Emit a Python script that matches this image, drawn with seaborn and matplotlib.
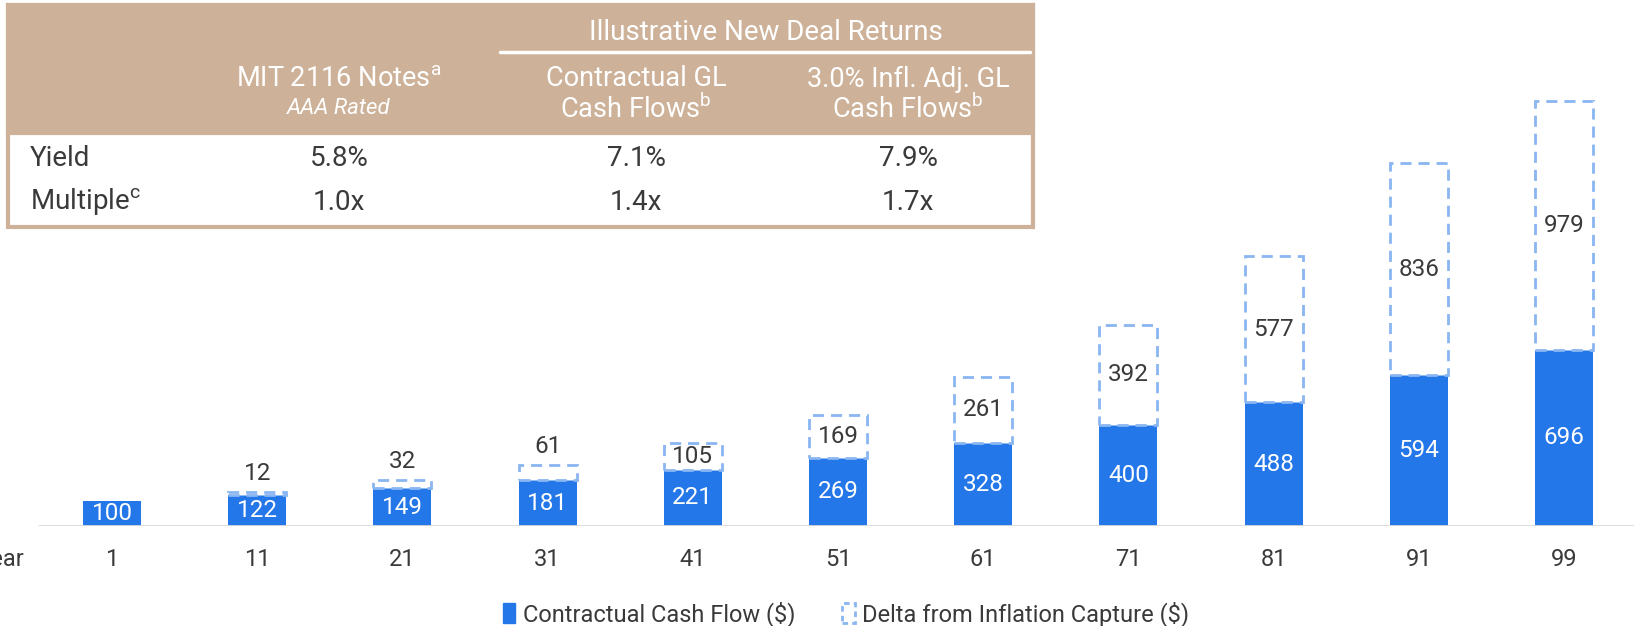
import matplotlib
matplotlib.use("Agg")
import matplotlib.pyplot as plt
from matplotlib.patches import Patch, Rectangle
from matplotlib.lines import Line2D
import pandas as pd
import seaborn as sns

# data
years = ["1", "11", "21", "31", "41", "51", "61", "71", "81", "91", "99"]
contractual = [100, 122, 149, 181, 221, 269, 328, 400, 488, 594, 696]
inflation_delta = [0, 12, 32, 61, 105, 169, 261, 392, 577, 836, 979]

header_top = ["MIT 2116 Notes$^{\\mathregular{a}}$", "Contractual GL", "3.0% Infl. Adj. GL"]
header_bottom = ["AAA Rated", "Cash Flows$^{\\mathregular{b}}$", "Cash Flows$^{\\mathregular{b}}$"]
table_rows = ["Yield", "Multiple$^{\\mathregular{c}}$"]
yields = ["5.8%", "7.1%", "7.9%"]
multiples = ["1.0x", "1.4x", "1.7x"]

BLUE = "#2477E8"
LIGHT = "#8AB6F1"
TAN = "#CDB299"
TEXT = "#3a3a3a"

sns.set_style("white")
plt.rcParams["font.family"] = ["Roboto", "DejaVu Sans"]

W, H = 1634, 626
fig = plt.figure(figsize=(W / 100, H / 100), dpi=100)

# axes placed so bar centres fall at 112 + 145.2*i px and baseline at 526 px
base_px, step_px, first_px, px_per_unit = 526, 145.2, 112, 0.2535
ax = fig.add_axes([0, (H - base_px) / H, 1, base_px / H])
df = pd.DataFrame({"year": years, "contractual": contractual, "delta": inflation_delta})

sns.barplot(data=df, x="year", y="contractual", color=BLUE, width=0.4,
            saturation=1, ax=ax, zorder=3, linewidth=0)
sns.barplot(data=df, x="year", y="delta", bottom=df["contractual"], color="white", width=0.4,
            saturation=1, ax=ax, zorder=4, edgecolor=LIGHT, linestyle=(0, (4, 2.5)), linewidth=2)
cont_bars, delta_bars = ax.containers[0], ax.containers[1]
delta_bars[0].set_visible(False)

ax.set_xlim(-first_px / step_px, (W - first_px) / step_px)
ax.set_ylim(0, base_px / px_per_unit)
sns.despine(ax=ax, left=True, bottom=True)
ax.set_yticks([])
ax.set_xlabel("")
ax.set_ylabel("")
ax.axhline(0, xmin=39 / W, xmax=1, color="#d9d9d9", lw=2, zorder=5)
ax.tick_params(axis="x", length=0, pad=16, labelsize=17, labelcolor=TEXT)

ax.bar_label(cont_bars, labels=[str(v) for v in contractual], label_type="center",
             color="white", fontsize=17.5)
inside = [str(d) if d >= 100 else "" for d in inflation_delta]
above = [str(d) if 0 < d < 100 else "" for d in inflation_delta]
ax.bar_label(delta_bars, labels=inside, label_type="center", color=TEXT, fontsize=17.5, zorder=6)
ax.bar_label(delta_bars, labels=above, label_type="edge", padding=5, color=TEXT, fontsize=17.5)

fig.text(25 / W, 1 - 560 / H, "Year", ha="right", va="center", fontsize=17, color=TEXT)


# return table, positioned in pixels
def fx(px):
    return px / W


def fy(px):
    return 1 - px / H


fig.patches.append(Rectangle((fx(8), fy(227)), fx(1033 - 8), (227 - 5) / H, transform=fig.transFigure,
                             facecolor="white", edgecolor=TAN, lw=3, zorder=10))
fig.patches.append(Rectangle((fx(8), fy(133)), fx(1033 - 8), (133 - 5) / H, transform=fig.transFigure,
                             facecolor=TAN, edgecolor=TAN, lw=3, zorder=11))
fig.add_artist(Line2D([fx(500), fx(1030)], [fy(52), fy(52)], transform=fig.transFigure,
                      color="white", lw=2.5, zorder=12))
fig.text(fx(766), fy(32), "Illustrative New Deal Returns", ha="center", va="center",
         color="white", fontsize=20, zorder=12)
col_x = [339, 636, 908]
for i, cx in enumerate(col_x):
    fig.text(fx(cx), fy(79), header_top[i], ha="center", va="center", color="white",
             fontsize=19.5, zorder=12)
    italic = i == 0
    fig.text(fx(cx), fy(109), header_bottom[i], ha="center", va="center", color="white",
             fontsize=16 if italic else 19.5, style="italic" if italic else "normal", zorder=12)
for cx, y_val, m_val in zip(col_x, yields, multiples):
    fig.text(fx(cx), fy(158), y_val, ha="center", va="center", color=TEXT, fontsize=20, zorder=12)
    fig.text(fx(cx), fy(202), m_val, ha="center", va="center", color=TEXT, fontsize=20, zorder=12)
for ry, label in zip([158, 202], table_rows):
    fig.text(fx(30), fy(ry), label, ha="left", va="center", color=TEXT, fontsize=20, zorder=12)

handles = [Patch(facecolor=BLUE, edgecolor=BLUE),
           Patch(facecolor="white", edgecolor=LIGHT, linestyle=(0, (2, 1.5)), linewidth=2)]
fig.legend(handles, ["Contractual Cash Flow ($)", "Delta from Inflation Capture ($)"],
           loc="center", bbox_to_anchor=(fx(846), fy(614)), ncol=2, frameon=False,
           fontsize=17, handlelength=0.55, handleheight=0.9, handletextpad=0.3,
           columnspacing=2.0, labelcolor=TEXT)

fig.savefig("out.png", dpi=100)
